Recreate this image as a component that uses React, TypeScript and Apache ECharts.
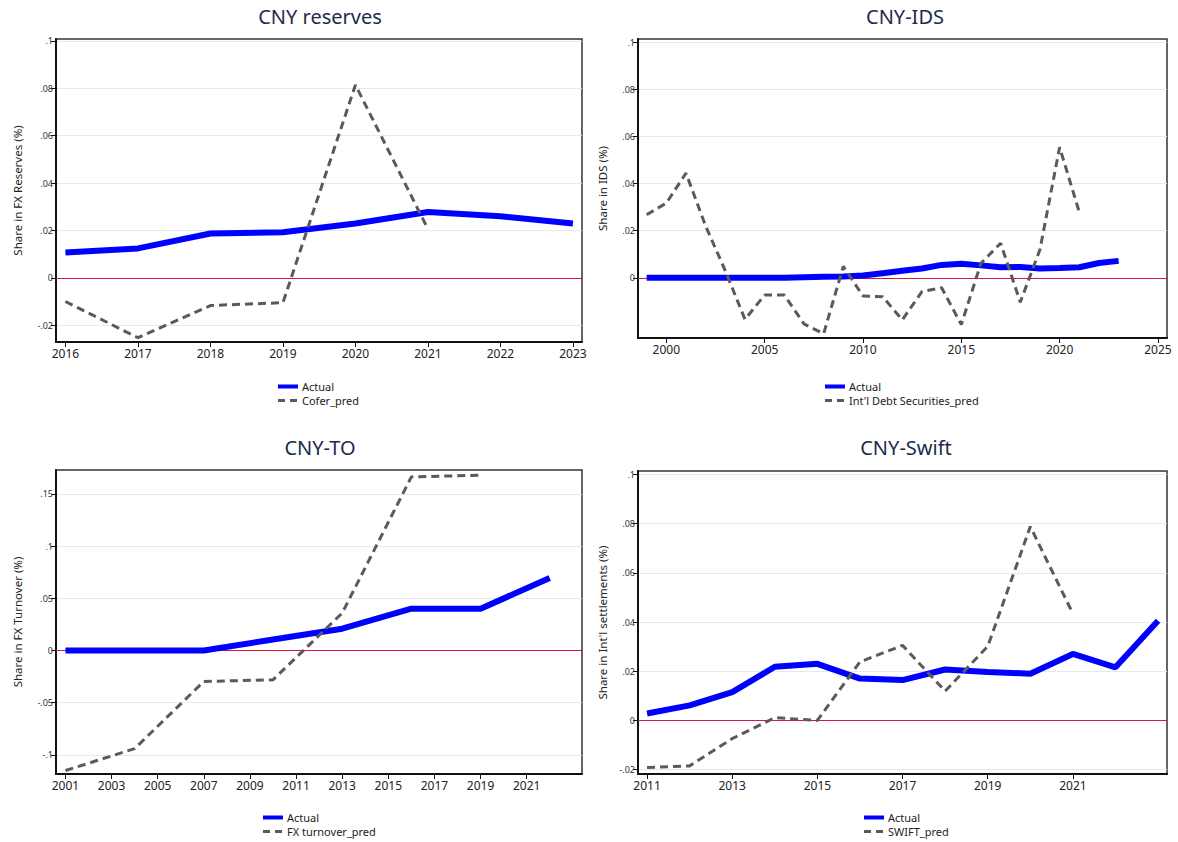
import React, { useEffect, useRef } from 'react';
import * as echarts from 'echarts';

// ---------- Data ----------
const reservesYears = [2016, 2017, 2018, 2019, 2020, 2021, 2022, 2023];
const reservesActual = [0.0107, 0.0124, 0.0187, 0.0192, 0.0229, 0.0278, 0.026, 0.0229];
const coferPredYears = [2016, 2017, 2018, 2019, 2020, 2021];
const coferPred = [-0.010, -0.0253, -0.0117, -0.0105, 0.0814, 0.0206];

const idsYears = [1999, 2000, 2001, 2002, 2003, 2004, 2005, 2006, 2007, 2008, 2009, 2010, 2011, 2012, 2013, 2014, 2015, 2016, 2017, 2018, 2019, 2020, 2021, 2022, 2023];
const idsActual = [0, 0, 0, 0, 0, 0, 0, 0.0001, 0.0003, 0.0005, 0.0006, 0.001, 0.002, 0.003, 0.004, 0.0055, 0.006, 0.0053, 0.0045, 0.0046, 0.004, 0.0042, 0.0045, 0.0063, 0.0072];
const idsPredYears = [1999, 2000, 2001, 2002, 2003, 2004, 2005, 2006, 2007, 2008, 2009, 2010, 2011, 2012, 2013, 2014, 2015, 2016, 2017, 2018, 2019, 2020, 2021];
const idsPred = [0.0268, 0.0317, 0.0444, 0.022, 0.003, -0.0176, -0.0073, -0.0073, -0.0195, -0.0237, 0.0049, -0.0077, -0.008, -0.0178, -0.0058, -0.0042, -0.0198, 0.0062, 0.0147, -0.0103, 0.012, 0.0554, 0.0279];

const toYears = [2001, 2004, 2007, 2010, 2013, 2016, 2019, 2022];
const toActual = [0, 0, 0, 0.0105, 0.0208, 0.04, 0.04, 0.0694];
const toPredYears = [2001, 2004, 2007, 2010, 2013, 2016, 2019];
const toPred = [-0.115, -0.094, -0.0297, -0.0281, 0.0358, 0.1662, 0.1678];

const swiftYears = [2011, 2012, 2013, 2014, 2015, 2016, 2017, 2018, 2019, 2020, 2021, 2022, 2023];
const swiftActual = [0.0028, 0.0061, 0.0115, 0.0218, 0.023, 0.017, 0.0164, 0.0207, 0.0197, 0.019, 0.027, 0.0216, 0.0405];
const swiftPredYears = [2011, 2012, 2013, 2014, 2015, 2016, 2017, 2018, 2019, 2020, 2021];
const swiftPred = [-0.0192, -0.0185, -0.0074, 0.0011, 0, 0.0238, 0.0305, 0.0119, 0.0301, 0.0788, 0.0434];

// ---------- Tick labels ----------
const reservesXTicks = [2016, 2017, 2018, 2019, 2020, 2021, 2022, 2023];
const idsXTicks = [2000, 2005, 2010, 2015, 2020, 2025];
const toXTicks = [2001, 2003, 2005, 2007, 2009, 2011, 2013, 2015, 2017, 2019, 2021];
const swiftXTicks = [2011, 2013, 2015, 2017, 2019, 2021];
const reservesYTicks = [-0.02, 0, 0.02, 0.04, 0.06, 0.08, 0.1];
const idsYTicks = [0, 0.02, 0.04, 0.06, 0.08, 0.1];
const toYTicks = [-0.1, -0.05, 0, 0.05, 0.1, 0.15];
const swiftYTicks = [-0.02, 0, 0.02, 0.04, 0.06, 0.08, 0.1];

// ---------- Text ----------
const titles = ['CNY reserves', 'CNY-IDS', 'CNY-TO', 'CNY-Swift'];
const yNames = ['Share in FX Reserves (%)', 'Share in IDS (%)', 'Share in FX Turnover (%)', "Share in Int'l settlements (%)"];
const actualName = 'Actual';
const predNames = ['Cofer_pred', "Int'l Debt Securities_pred", 'FX turnover_pred', 'SWIFT_pred'];

const FONT = '"Noto Sans", "Open Sans", sans-serif';

const panels = [
  {
    grid: { left: 56, top: 39, width: 526, height: 303 },
    x: [2015.87, 2023.125], y: [-0.0271, 0.1008],
    xTicks: reservesXTicks, yTicks: reservesYTicks,
    actual: [reservesYears, reservesActual], pred: [coferPredYears, coferPred],
    titlePos: [320, 16], legendPos: [276, 381], nameGap: 33,
  },
  {
    grid: { left: 638, top: 39, width: 529, height: 299 },
    x: [1998.56, 2025.46], y: [-0.0255, 0.1013],
    xTicks: idsXTicks, yTicks: idsYTicks,
    actual: [idsYears, idsActual], pred: [idsPredYears, idsPred],
    titlePos: [905, 16], legendPos: [823, 381], nameGap: 30,
  },
  {
    grid: { left: 56, top: 470, width: 526, height: 304 },
    x: [2000.59, 2023.4], y: [-0.1183, 0.1728],
    xTicks: toXTicks, yTicks: toYTicks,
    actual: [toYears, toActual], pred: [toPredYears, toPred],
    titlePos: [320, 447], legendPos: [261, 812], nameGap: 33,
  },
  {
    grid: { left: 638, top: 471, width: 529, height: 303 },
    x: [2010.787, 2023.21], y: [-0.0218, 0.1014],
    xTicks: swiftXTicks, yTicks: swiftYTicks,
    actual: [swiftYears, swiftActual], pred: [swiftPredYears, swiftPred],
    titlePos: [906, 447], legendPos: [862, 812], nameGap: 30,
  },
];

const yFmt = (v: number) => (v === 0 ? '0' : String(v).replace('0.', '.'));

function pairs(xs: number[], ys: number[]) {
  return xs.map((x, i) => [x, ys[i]]);
}

export default function App() {
  const ref = useRef<HTMLDivElement>(null);

  useEffect(() => {
    if (!ref.current) return;
    const chart = echarts.init(ref.current, null, { renderer: 'svg' });

    const grid: any[] = [];
    const xAxis: any[] = [];
    const yAxis: any[] = [];
    const series: any[] = [];
    const legend: any[] = [];
    const title: any[] = [];

    panels.forEach((p, i) => {
      grid.push({
        ...p.grid,
        show: true,
        backgroundColor: '#fff',
        borderColor: '#333',
        borderWidth: 1.5,
      });
      xAxis.push({
        type: 'value',
        gridIndex: i,
        min: p.x[0],
        max: p.x[1],
        axisLine: { show: true, onZero: false, lineStyle: { color: '#111', width: 2 } },
        axisTick: { show: true, customValues: p.xTicks, length: 5, lineStyle: { color: '#111', width: 1 } },
        axisLabel: {
          customValues: p.xTicks,
          formatter: (v: number) => String(Math.round(v)),
          fontSize: 12,
          color: '#222',
          margin: 5,
          fontFamily: FONT,
        },
        splitLine: { show: false },
      });
      yAxis.push({
        type: 'value',
        gridIndex: i,
        min: p.y[0],
        max: p.y[1],
        name: yNames[i],
        nameLocation: 'middle',
        nameGap: p.nameGap,
        nameTextStyle: { fontSize: 11.5, color: '#222', fontFamily: FONT },
        axisLine: { show: true, onZero: false, lineStyle: { color: '#111', width: 2 } },
        axisTick: { show: true, customValues: p.yTicks, length: 5, lineStyle: { color: '#111', width: 1 } },
        axisLabel: {
          customValues: p.yTicks,
          formatter: yFmt,
          fontSize: 9,
          color: '#333',
          margin: 3,
          fontFamily: FONT,
        },
        splitLine: { show: true, lineStyle: { color: '#e2ecec', width: 1 } },
      });
      series.push({
        type: 'line',
        name: actualName,
        xAxisIndex: i,
        yAxisIndex: i,
        data: pairs(p.actual[0], p.actual[1]),
        symbol: 'none',
        lineStyle: { color: '#0000ff', width: 6 },
        itemStyle: { color: '#0000ff' },
        z: 3,
        markLine: {
          silent: true,
          symbol: 'none',
          z: 1,
          label: { show: false },
          lineStyle: { color: '#d6173f', width: 1, type: 'solid' },
          emphasis: { disabled: true },
          data: [{ yAxis: 0 }],
        },
      });
      series.push({
        type: 'line',
        name: predNames[i],
        xAxisIndex: i,
        yAxisIndex: i,
        data: pairs(p.pred[0], p.pred[1]),
        symbol: 'none',
        lineStyle: { color: '#5a5a5a', width: 3, type: [8, 5] },
        itemStyle: { color: '#5a5a5a' },
        z: 4,
      });
      legend.push({
        orient: 'vertical',
        left: p.legendPos[0],
        top: p.legendPos[1],
        padding: 0,
        itemGap: 3,
        itemWidth: 20,
        itemHeight: 10,
        selectedMode: false,
        textStyle: { fontSize: 11, color: '#222', fontFamily: FONT, padding: [0, 0, 0, -1] },
        data: [
          { name: actualName, itemStyle: { opacity: 0 }, lineStyle: { width: 4, color: '#0000ff' } },
          { name: predNames[i], itemStyle: { opacity: 0 }, lineStyle: { width: 3, color: '#5a5a5a', type: [7, 5] } },
        ],
      });
      title.push({
        text: titles[i],
        left: p.titlePos[0] - 5,
        top: p.titlePos[1] - 5,
        textAlign: 'center',
        textVerticalAlign: 'middle',
        textStyle: { fontSize: 20, fontWeight: 'normal', color: '#1d2b4d', fontFamily: FONT },
      });
    });

    chart.setOption({
      animation: false,
      backgroundColor: '#fff',
      title,
      legend,
      grid,
      xAxis,
      yAxis,
      series,
    });

    return () => chart.dispose();
  }, []);

  return (
    <div
      ref={ref}
      style={{ position: 'fixed', left: 0, top: 0, width: 1178, height: 842, background: '#fff' }}
    />
  );
}
